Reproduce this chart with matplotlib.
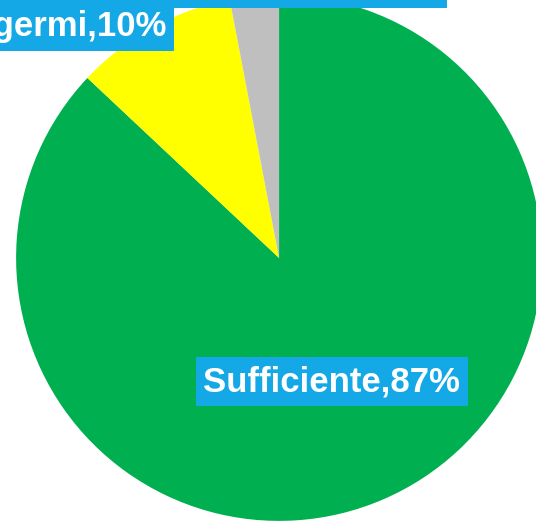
import matplotlib.pyplot as plt

plt.rcParams['font.family'] = ['Liberation Sans', 'DejaVu Sans']

# dati della torta (ordine orario partendo dall'alto)
categorie = ['Sufficiente', 'Insufficiente per presenza di germi', 'Insufficiente per parametri chimici']
percentuali = [87, 10, 3]
colori = ['#00B050', '#FFFF00', '#BFBFBF']

etichette = [f'{c},{p}%' for c, p in zip(categorie, percentuali)]

fig = plt.figure(figsize=(5.36, 5.23), dpi=100)
ax = fig.add_axes([0, 0, 1, 1])

ax.pie(percentuali, colors=colori, startangle=90, counterclock=False,
       radius=1.0, center=(0, 0))

# la vista taglia la torta come nell'immagine originale
ax.set_xlim(-1.061, 0.977)
ax.set_ylim(-1.008, 0.981)
ax.set_aspect('equal')
ax.axis('off')

blu = '#14A9E6'
stile = dict(color='white', fontsize=25, fontweight='bold')

# posizioni delle etichette (coordinate dati, raggio = 1)
ax.text(0.20, -0.47, etichette[0], ha='center', va='center',
        bbox=dict(boxstyle='square,pad=0.22', facecolor=blu, edgecolor='none'), **stile)
ax.text(-0.43, 0.843, etichette[1], ha='right', va='baseline',
        bbox=dict(boxstyle='square,pad=0.22', facecolor=blu, edgecolor='none'), **stile)
# etichetta del grigio: fuori dal bordo superiore, si vede solo il fondo del riquadro
ax.text(0.60, 0.99, etichette[2], ha='right', va='bottom',
        bbox=dict(boxstyle='square,pad=0.3', facecolor=blu, edgecolor='none'), **stile)

fig.savefig('out.png', dpi=100)
